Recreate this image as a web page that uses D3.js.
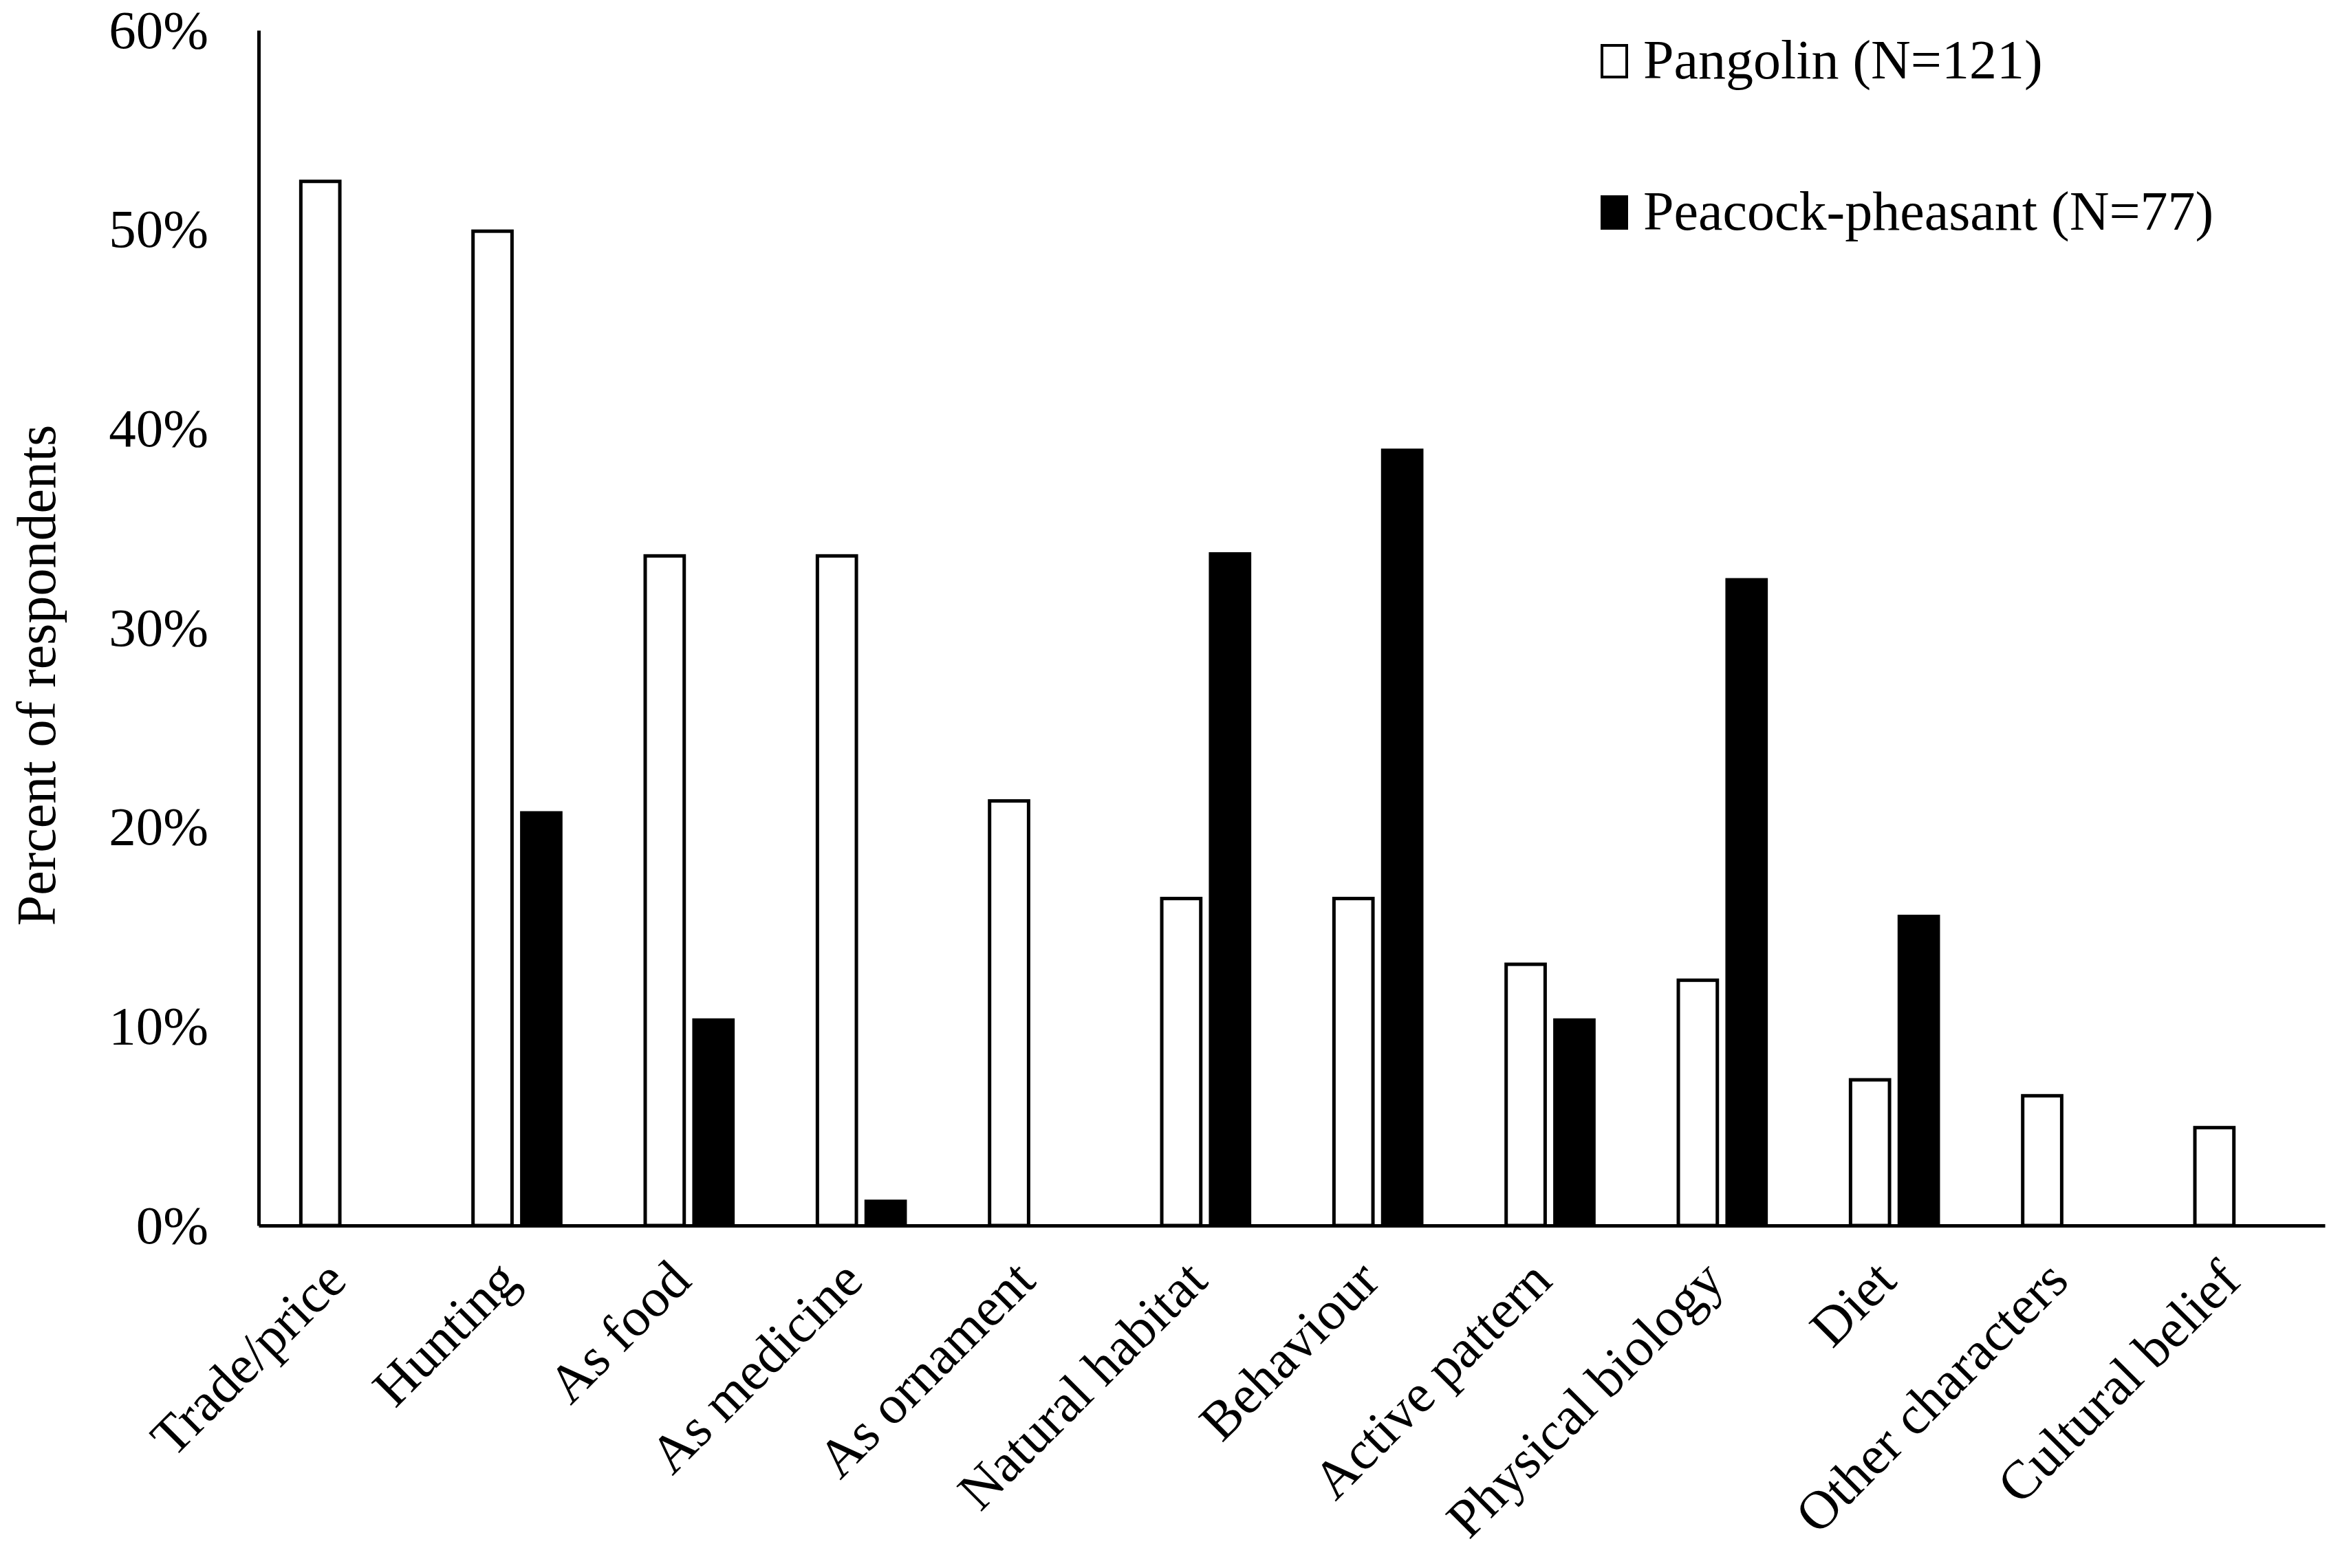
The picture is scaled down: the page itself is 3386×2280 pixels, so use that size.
<!DOCTYPE html>
<html>
<head>
<meta charset="utf-8">
<script src="https://cdn.jsdelivr.net/npm/d3@7"></script>
<style>
	html, body { margin: 0; padding: 0; background: #fff; }
	svg { display: block; }
	.chart text { font-family: "Liberation Serif", "Times New Roman", serif; fill: #000; }
</style>
</head>
<body>
<div id="chart"></div>
<script>
// categories on the x axis
const categories = [
	"Trade/price", "Hunting", "As food", "As medicine", "As ornament", "Natural habitat",
	"Behaviour", "Active pattern", "Physical biology", "Diet", "Other characters", "Cultural belief"
];
// percent of respondents
const pangolin = [52.5, 50.0, 33.7, 33.7, 21.4, 16.5, 16.5, 13.2, 12.4, 7.4, 6.6, 5.0];
const peacock = [0, 20.8, 10.4, 1.3, 0, 33.8, 39.0, 10.4, 32.5, 15.6, 0, 0];

const seriesNames = ["Pangolin (N=121)", "Peacock-pheasant (N=77)"];
const seriesKeys = ["pangolin", "peacock"];
const yTicks = [0, 10, 20, 30, 40, 50, 60];

function draw_chart(id) {
	const dimensions = {
		width: 3386,
		height: 2280,
		margin: { top: 44, right: 6, bottom: 498, left: 376 }
	};
	dimensions.inner = {
		width: dimensions.width - dimensions.margin.left - dimensions.margin.right,
		height: dimensions.height - dimensions.margin.top - dimensions.margin.bottom
	};

	const rows = categories.map((c, i) => ({ cat: c, pangolin: pangolin[i], peacock: peacock[i] }));

	const x0 = d3.scaleBand()
		.domain(categories)
		.range([0, dimensions.inner.width]);
	const x1 = d3.scaleBand()
		.domain(seriesKeys)
		.range([0, x0.bandwidth()])
		.paddingInner(0.13)
		.paddingOuter(0.83);
	const y = d3.scaleLinear()
		.domain([0, 60])
		.range([dimensions.inner.height, 0]);

	const svg_outer = d3.select(id)
		.append("svg")
		.attr("class", "chart")
		.attr("width", dimensions.width)
		.attr("height", dimensions.height)
		.attr("viewBox", `0 0 ${dimensions.width} ${dimensions.height}`);

	const svg = svg_outer
		.append("g")
		.attr("transform", "translate(" + dimensions.margin.left + "," + dimensions.margin.top + ")");

	// bars
	const stroke = 5;
	const groups = svg.append("g")
		.selectAll("g")
		.data(rows)
		.join("g")
		.attr("transform", d => "translate(" + x0(d.cat) + ",0)");

	groups.selectAll("rect")
		.data(d => seriesKeys.map(k => ({ key: k, value: d[k] })).filter(s => s.value > 0))
		.join("rect")
		.attr("x", d => x1(d.key) + stroke / 2)
		.attr("y", d => y(d.value) + stroke / 2)
		.attr("width", x1.bandwidth() - stroke)
		.attr("height", d => y(0) - y(d.value) - stroke / 2)
		.attr("fill", d => d.key === "pangolin" ? "#fff" : "#000")
		.attr("stroke", "#000")
		.attr("stroke-width", stroke);

	// y axis
	const yAxis = svg.append("g")
		.call(d3.axisLeft(y).tickValues(yTicks).tickSize(0).tickPadding(73).tickFormat(d => d + "%"));
	yAxis.select(".domain").attr("stroke", "#000").attr("stroke-width", 5);
	yAxis.selectAll("text")
		.attr("font-size", 79)
		.attr("font-family", "Liberation Serif");

	// x axis
	const xAxis = svg.append("g")
		.attr("transform", "translate(0," + dimensions.inner.height + ")")
		.call(d3.axisBottom(x0).tickSize(0).tickFormat(""));
	xAxis.select(".domain").attr("stroke", "#000").attr("stroke-width", 5);

	xAxis.selectAll(".tick")
		.append("text")
		.attr("font-size", 79)
		.attr("font-family", "Liberation Serif")
		.attr("text-anchor", "end")
		.attr("transform", "translate(6,84) rotate(-45)")
		.text(d => d);

	// y title
	svg_outer.append("text")
		.attr("transform", "translate(80,982) rotate(-90)")
		.attr("text-anchor", "middle")
		.attr("font-size", 80)
		.text("Percent of respondents");

	// legend
	const legend = svg_outer.append("g")
		.attr("transform", "translate(2327,0)");
	const items = legend.selectAll("g")
		.data(seriesKeys)
		.join("g")
		.attr("transform", (d, i) => "translate(0," + (114 + i * 220) + ")");
	items.append("rect")
		.attr("x", 2)
		.attr("y", -48)
		.attr("width", 36)
		.attr("height", 46)
		.attr("fill", d => d === "pangolin" ? "#fff" : "#000")
		.attr("stroke", "#000")
		.attr("stroke-width", 4);
	items.append("text")
		.attr("x", 62)
		.attr("font-size", 80)
		.text((d, i) => seriesNames[i]);
}

draw_chart("#chart");
</script>
</body>
</html>
